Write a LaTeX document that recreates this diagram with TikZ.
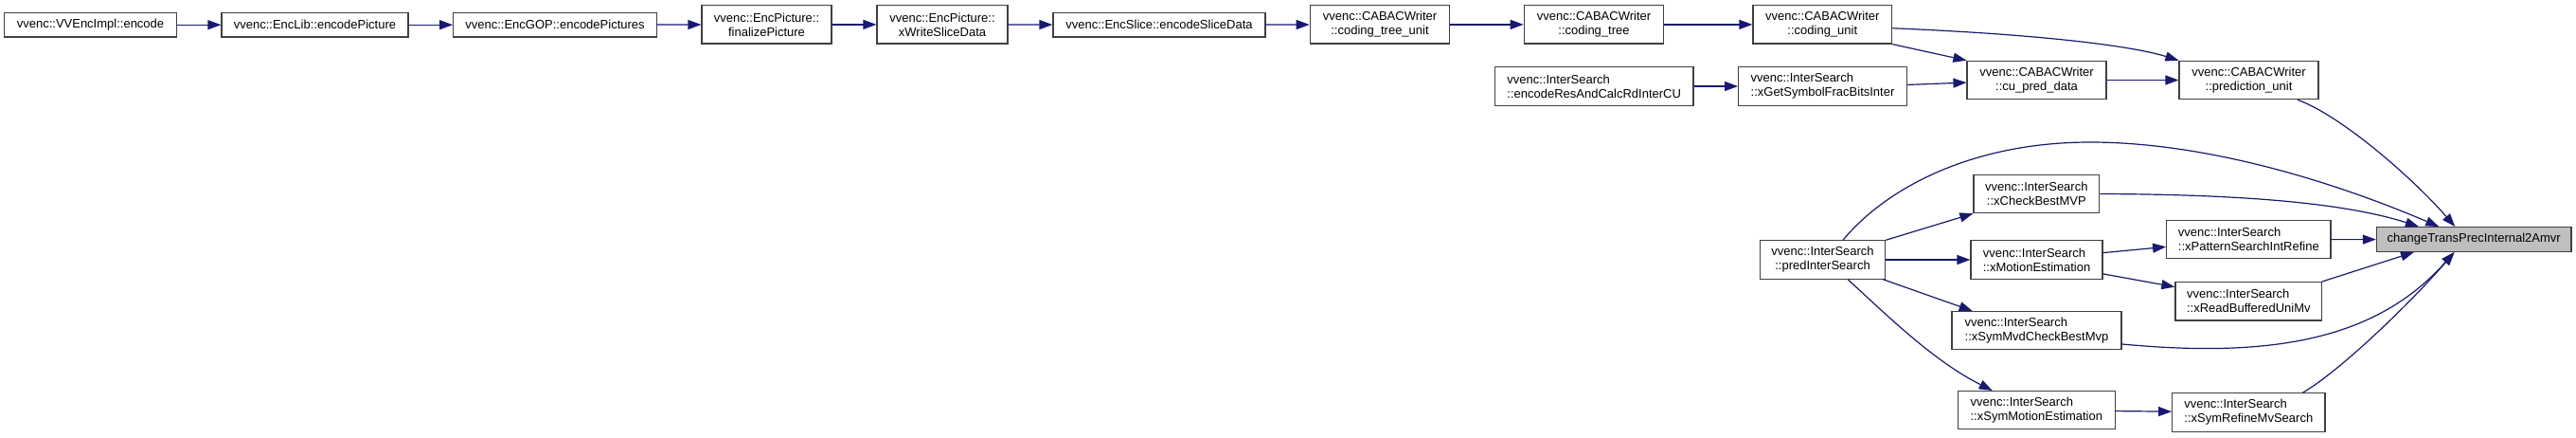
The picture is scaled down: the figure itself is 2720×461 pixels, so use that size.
\documentclass[tikz,border=0pt]{standalone}
\usepackage{fontspec}
\setmainfont{Liberation Sans}
\usetikzlibrary{arrows.meta}
\definecolor{edgeblue}{HTML}{191970}
\definecolor{boxline}{HTML}{404040}
\definecolor{hlgray}{HTML}{BFBFBF}
\begin{document}
\begin{tikzpicture}[x=1pt,y=-1pt,
  basebox/.style={draw=boxline, line width=1.2pt, fill=white, inner sep=0pt,
    font=\fontsize{13pt}{15pt}\selectfont},
  sbox/.style={basebox, minimum height=25.7pt},
  cbox/.style={basebox, minimum height=40.3pt, align=center},
  lbox/.style={basebox, minimum height=40.3pt, align=left},
  hbox/.style={sbox, fill=hlgray},
  conn/.style={draw=edgeblue, line width=1.2pt, -{Triangle[length=14pt,width=10pt]}}
]
\fill[white] (0,0) rectangle (2720,461);
\useasboundingbox (0,0) rectangle (2720,461);

% top row
\node[sbox, minimum width=182pt] (enc) at (95.5,26.2) {vvenc::VVEncImpl::encode};
\node[sbox, minimum width=197pt] (encpic) at (332.5,26.2) {vvenc::EncLib::encodePicture};
\node[sbox, minimum width=214.7pt] (encpics) at (586,26.2) {vvenc::EncGOP::encodePictures};
\node[cbox, minimum width=137pt] (fin) at (809.5,25.9) {vvenc::EncPicture::\\finalizePicture};
\node[cbox, minimum width=138pt] (xws) at (995,25.9) {vvenc::EncPicture::\\xWriteSliceData};
\node[sbox, minimum width=224pt] (esd) at (1224,26.2) {vvenc::EncSlice::encodeSliceData};
\node[cbox, minimum width=147.4pt] (ctu) at (1457,25.9) {vvenc::CABACWriter\\::coding\_tree\_unit};
\node[cbox, minimum width=147.4pt] (ctr) at (1683,25.9) {vvenc::CABACWriter\\::coding\_tree};
\node[cbox, minimum width=146.7pt] (cu) at (1924.3,25.9) {vvenc::CABACWriter\\::coding\_unit};

% second row
\node[lbox, minimum width=209.7pt] (erc) at (1683.2,91) {vvenc::InterSearch\\::encodeResAndCalcRdInterCU};
\node[lbox, minimum width=177.6pt] (gsf) at (1924.5,91) {vvenc::InterSearch\\::xGetSymbolFracBitsInter};
\node[cbox, minimum width=147pt] (cpd) at (2150.5,84.5) {vvenc::CABACWriter\\::cu\_pred\_data};
\node[cbox, minimum width=147pt] (pu) at (2374.5,84.5) {vvenc::CABACWriter\\::prediction\_unit};

% lower part
\node[cbox, minimum width=132.4pt] (pis) at (1924.5,274) {vvenc::InterSearch\\::predInterSearch};
\node[cbox, minimum width=132.7pt] (cbm) at (2150.3,204.5) {vvenc::InterSearch\\::xCheckBestMVP};
\node[lbox, minimum width=139pt] (me) at (2150.5,274) {vvenc::InterSearch\\::xMotionEstimation};
\node[lbox, minimum width=179pt] (smv) at (2150.5,348.7) {vvenc::InterSearch\\::xSymMvdCheckBestMvp};
\node[lbox, minimum width=166pt] (sme) at (2150.3,432.7) {vvenc::InterSearch\\::xSymMotionEstimation};
\node[lbox, minimum width=173.3pt] (psr) at (2374.3,252.7) {vvenc::InterSearch\\::xPatternSearchIntRefine};
\node[lbox, minimum width=154.7pt] (rbu) at (2374.3,317.8) {vvenc::InterSearch\\::xReadBufferedUniMv};
\node[lbox, minimum width=161.3pt] (srm) at (2374.3,435) {vvenc::InterSearch\\::xSymRefineMvSearch};
\node[hbox, minimum width=205.7pt] (ctp) at (2612.2,252.5) {changeTransPrecInternal2Amvr};

% top chain
\draw[conn] (enc) -- (encpic);
\draw[conn] (encpic) -- (encpics);
\draw[conn] (encpics) -- (fin);
\draw[conn] (fin) -- (xws);
\draw[conn] (xws) -- (esd);
\draw[conn] (esd) -- (ctu);
\draw[conn] (ctu) -- (ctr);
\draw[conn] (ctr) -- (cu);

% CABAC part
\draw[conn] (cu.south east) -- (cpd.north west);
\draw[conn] (cu.357.5) .. controls (2150,36) and (2250,48) .. (pu.north west);
\draw[conn] (erc) -- (gsf);
\draw[conn] (gsf.1.7) -- (cpd.182.2);
\draw[conn] (cpd) -- (pu);
\draw[conn] (pu.338.2) .. controls (2470,121) and (2545,185) .. (ctp.146.3);

% InterSearch part
\draw[conn] (pis.44.3) .. controls (1990,200) and (2080,150) .. (2207,150)
  .. controls (2330,150) and (2465,192) .. (ctp.160);
\draw[conn] (pis.north east) -- (cbm.south west);
\draw[conn] (pis) -- (me);
\draw[conn] (pis.342.2) -- (smv.163);
\draw[conn] (pis.322) .. controls (1990,330) and (2040,380) .. (sme.156);
\draw[conn] (cbm.east) .. controls (2350,205) and (2470,212) .. (ctp.167.8);
\draw[conn] (me.6) -- (psr.185.9);
\draw[conn] (me.348.8) -- (rbu.169.4);
\draw[conn] (psr) -- (ctp);
\draw[conn] (rbu.15.2) -- (ctp.192.2);
\draw[conn] (smv.351.1) .. controls (2400,378) and (2510,358) .. (ctp.213.7);
\draw[conn] (sme) -- (srm);
\draw[conn] (srm.20.9) .. controls (2470,392) and (2545,320) .. (ctp.213.7);
\end{tikzpicture}
\end{document}
